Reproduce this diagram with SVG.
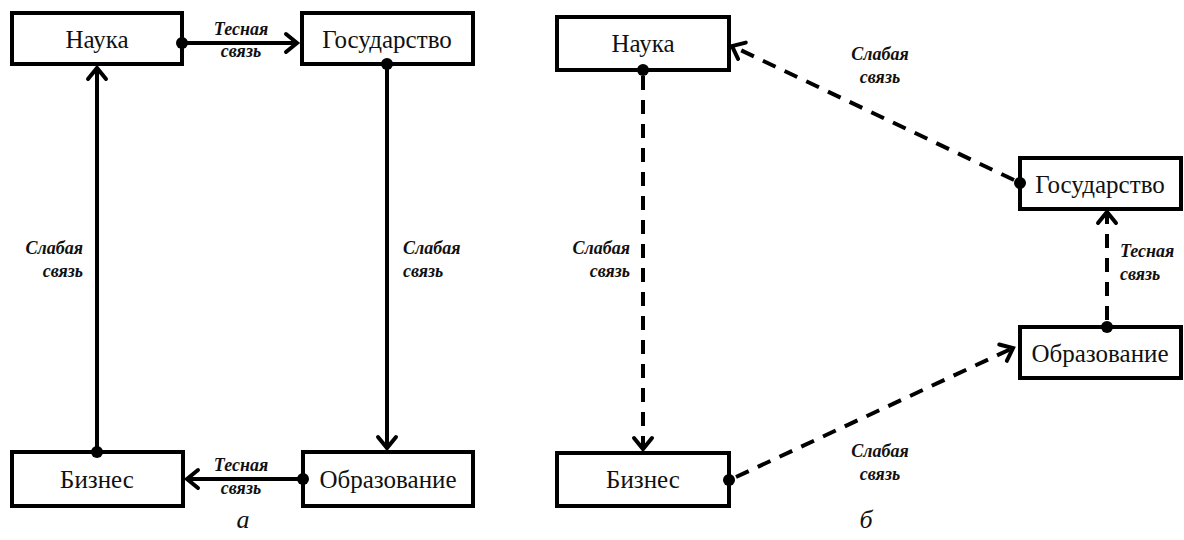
<svg xmlns="http://www.w3.org/2000/svg" width="1184" height="540" viewBox="0 0 1184 540">
<style>
.box{fill:#fff;stroke:#000;stroke-width:4}
.nt{font-size:25px;text-anchor:middle;fill:#111}
.lb{font-size:18px;font-weight:bold;font-style:italic;fill:#111}
.ln{fill:none;stroke:#000;stroke-width:4}
.ds{stroke-dasharray:14 10}
.cap{font-size:26px;font-style:italic;text-anchor:middle;fill:#111}
.dot{fill:#000}
</style>
<defs>
<marker id="ar" markerUnits="userSpaceOnUse" markerWidth="24" markerHeight="24" viewBox="-14 -12 16 24" refX="0" refY="0" orient="auto">
<path d="M-11,-9 L0,0 L-11,9" fill="none" stroke="#000" stroke-width="4" stroke-linecap="round"/>
</marker>
</defs>
<rect width="1184" height="540" fill="#fff"/>
<g id="nauka-a" font-family="Liberation Serif, Times New Roman, serif"><rect class="box" x="12" y="13" width="170" height="51"/><text class="nt" x="97" y="48">Наука</text></g>
<g id="gos-a" font-family="Liberation Serif, Times New Roman, serif"><rect class="box" x="302" y="13" width="171" height="51"/><text class="nt" x="387" y="48">Государство</text></g>
<g id="biz-a" font-family="Liberation Serif, Times New Roman, serif"><rect class="box" x="12" y="452" width="171" height="54"/><text class="nt" x="97" y="488">Бизнес</text></g>
<g id="obr-a" font-family="Liberation Serif, Times New Roman, serif"><rect class="box" x="303" y="452" width="170" height="54"/><text class="nt" x="388" y="488">Образование</text></g>
<g id="nauka-b" font-family="Liberation Serif, Times New Roman, serif"><rect class="box" x="557" y="17" width="172" height="53"/><text class="nt" x="643" y="52">Наука</text></g>
<g id="biz-b" font-family="Liberation Serif, Times New Roman, serif"><rect class="box" x="557" y="453" width="172" height="53"/><text class="nt" x="643" y="488">Бизнес</text></g>
<g id="gos-b" font-family="Liberation Serif, Times New Roman, serif"><rect class="box" x="1020" y="158" width="161" height="51"/><text class="nt" x="1100" y="193">Государство</text></g>
<g id="obr-b" font-family="Liberation Serif, Times New Roman, serif"><rect class="box" x="1020" y="327" width="161" height="51"/><text class="nt" x="1100" y="362">Образование</text></g>
<g id="connectors" font-family="Liberation Serif, Times New Roman, serif">
<line class="ln" x1="182" y1="43" x2="297" y2="43" marker-end="url(#ar)"/>
<line class="ln" x1="387" y1="64" x2="387" y2="448" marker-end="url(#ar)"/>
<line class="ln" x1="303" y1="479" x2="187" y2="479" marker-end="url(#ar)"/>
<line class="ln" x1="97" y1="452" x2="97" y2="68" marker-end="url(#ar)"/>
<line class="ln ds" x1="643" y1="76" x2="643" y2="449" marker-end="url(#ar)"/>
<line class="ln ds" x1="736" y1="477" x2="1013" y2="348" marker-end="url(#ar)"/>
<line class="ln ds" x1="1107" y1="320" x2="1107" y2="212" marker-end="url(#ar)"/>
<line class="ln ds" x1="1014" y1="180" x2="732" y2="46" marker-end="url(#ar)"/>
<circle class="dot" cx="182" cy="43" r="6"/>
<circle class="dot" cx="387" cy="64" r="6"/>
<circle class="dot" cx="303" cy="479" r="6"/>
<circle class="dot" cx="97" cy="452" r="6"/>
<circle class="dot" cx="643" cy="70" r="6"/>
<circle class="dot" cx="729" cy="480" r="6"/>
<circle class="dot" cx="1107" cy="327" r="6"/>
<circle class="dot" cx="1020" cy="183" r="6"/>
<text class="lb" x="241" y="35" text-anchor="middle">Тесная</text>
<text class="lb" x="241" y="57" text-anchor="middle">связь</text>
<text class="lb" x="241" y="471" text-anchor="middle">Тесная</text>
<text class="lb" x="241" y="494" text-anchor="middle">связь</text>
<text class="lb" x="83" y="254" text-anchor="end">Слабая</text>
<text class="lb" x="83" y="277" text-anchor="end">связь</text>
<text class="lb" x="403" y="254">Слабая</text>
<text class="lb" x="403" y="277">связь</text>
<text class="lb" x="630" y="254" text-anchor="end">Слабая</text>
<text class="lb" x="630" y="277" text-anchor="end">связь</text>
<text class="lb" x="880" y="60" text-anchor="middle">Слабая</text>
<text class="lb" x="880" y="83" text-anchor="middle">связь</text>
<text class="lb" x="1120" y="257">Тесная</text>
<text class="lb" x="1120" y="280">связь</text>
<text class="lb" x="880" y="457" text-anchor="middle">Слабая</text>
<text class="lb" x="880" y="480" text-anchor="middle">связь</text>
</g>
<g id="captions" font-family="Liberation Serif, Times New Roman, serif"><text class="cap" x="243" y="528">а</text><text class="cap" x="866" y="528">б</text></g>
</svg>
